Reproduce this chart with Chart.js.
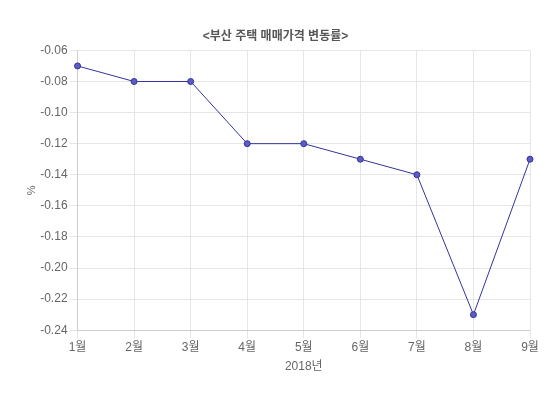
<!DOCTYPE html>
<html><head><meta charset="utf-8">
<script src="https://cdn.jsdelivr.net/npm/chart.js@4"></script>
<style>html,body{margin:0;padding:0;background:#fff}#wrap{width:550px;height:395px}</style>
</head><body><div id="wrap"><canvas id="c"></canvas></div>
<script>
const categories = ['1월','2월','3월','4월','5월','6월','7월','8월','9월'];
const values = [-0.07,-0.08,-0.08,-0.12,-0.12,-0.13,-0.14,-0.23,-0.13];
const yMin = -0.24, yMax = -0.06, yStep = 0.02;
const FONT = "'Liberation Sans', 'Noto Sans CJK KR', sans-serif";
Chart.defaults.font.family = FONT;
Chart.defaults.color = '#666';
new Chart(document.getElementById('c'), {
  type: 'line',
  data: { labels: categories, datasets: [{
    label: '변동률', data: values,
    borderColor: '#33339c', backgroundColor: '#5a5ac0',
    borderWidth: 1, pointRadius: 3, pointBorderColor: '#33339c', pointBackgroundColor: '#5c5cc4',
    pointBorderWidth: 1, tension: 0, fill: false
  }]},
  options: {
    responsive: true, maintainAspectRatio: false, animation: false,
    layout: { padding: { left: 21, right: 20, top: 21, bottom: 17 } },
    plugins: {
      legend: { display: false },
      tooltip: { enabled: false },
      title: { display: true, text: '<부산 주택 매매가격 변동률>', color: '#555', font: { size: 12, weight: 'bold' }, padding: { top: 8, bottom: 7 } }
    },
    scales: {
      x: { grid: { color: '#e6e6e6' }, ticks: { font: { size: 12 }, color: '#666', padding: 2 },
           title: { display: true, text: '2018년', font: { size: 12 }, color: '#666', padding: { top: 3, bottom: 4 } } },
      y: { min: yMin, max: yMax, grid: { color: '#e6e6e6' },
           ticks: { stepSize: yStep, font: { size: 12 }, color: '#666', padding: 2, callback: v => v.toFixed(2) },
           title: { display: true, text: '%', font: { size: 11 }, color: '#666', padding: { top: 4, bottom: 0 } } }
    }
  }
});
</script></body></html>
